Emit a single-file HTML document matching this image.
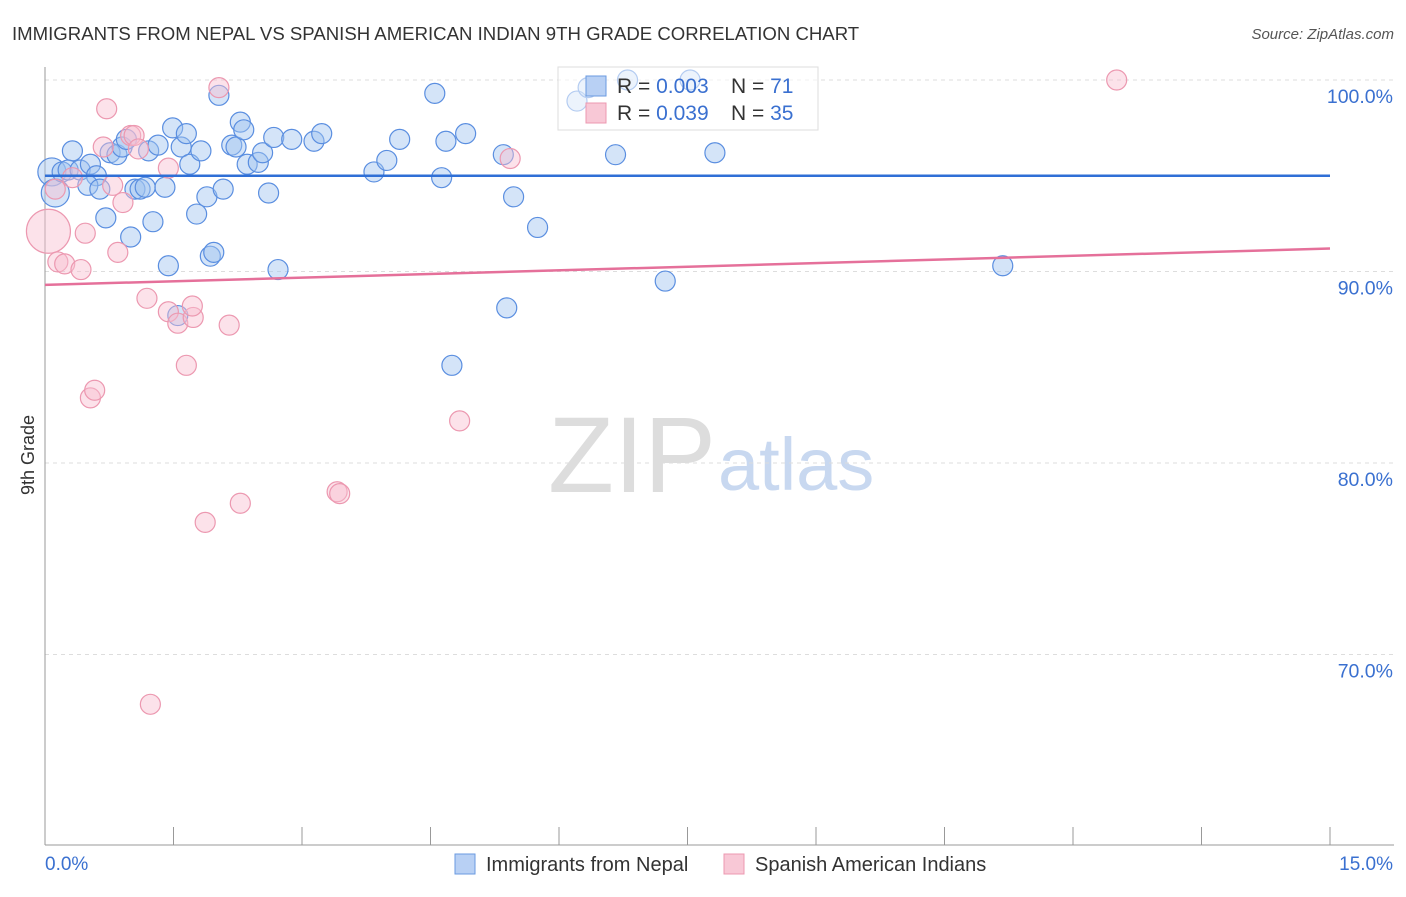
<!DOCTYPE html>
<html><head><meta charset="utf-8"><style>
body{margin:0;background:#fff;font-family:"Liberation Sans",sans-serif}
svg text{font-family:"Liberation Sans",sans-serif}
</style></head><body>
<svg id="c" width="1406" height="892">
<text x="12" y="40" font-size="18.6" fill="#333">IMMIGRANTS FROM NEPAL VS SPANISH AMERICAN INDIAN 9TH GRADE CORRELATION CHART</text>
<text x="1394" y="39" font-size="15" fill="#555" font-style="italic" text-anchor="end">Source: ZipAtlas.com</text>
<text x="716" y="492" font-size="108" fill="#ddd" text-anchor="end" font-family="Liberation Serif">ZIP</text>
<text x="718" y="490" font-size="74" fill="#c8d8f0">atlas</text>
<text x="34" y="455" font-size="18" fill="#333" transform="rotate(-90 34 455)" text-anchor="middle">9th Grade</text>
<g id="grid"></g><g id="pts"></g><g id="trend"></g>
<g>
<rect x="558" y="67" width="260" height="63" fill="rgba(255,255,255,0.55)" stroke="#ddd"/>
<rect x="586" y="76" width="20" height="20" fill="#b8d0f4" stroke="#6a9ae0"/>
<rect x="586" y="103" width="20" height="20" fill="#f8c8d6" stroke="#ec98b0"/>
<text x="617" y="93" font-size="21" fill="#333">R = <tspan fill="#3a70d0">0.003</tspan></text>
<text x="731" y="93" font-size="21" fill="#333">N = <tspan fill="#3a70d0">71</tspan></text>
<text x="617" y="120" font-size="21" fill="#333">R = <tspan fill="#3a70d0">0.039</tspan></text>
<text x="731" y="120" font-size="21" fill="#333">N = <tspan fill="#3a70d0">35</tspan></text>
</g>
<g>
<rect x="455" y="854" width="20" height="20" fill="#b8d0f4" stroke="#6a9ae0"/>
<text x="486" y="871" font-size="20" fill="#333">Immigrants from Nepal</text>
<rect x="724" y="854" width="20" height="20" fill="#f8c8d6" stroke="#ec98b0"/>
<text x="755" y="871" font-size="20" fill="#333">Spanish American Indians</text>
</g>
<text x="45" y="870" font-size="19" fill="#3a70d0">0.0%</text>
<text x="1393" y="870" font-size="19" fill="#3a70d0" text-anchor="end">15.0%</text>
</svg>
<script>
const yTicks=[100,90,80,70];
const yTickLabels=["100.0%","90.0%","80.0%","70.0%"];
const xTicks=[0,1.5,3,4.5,6,7.5,9,10.5,12,13.5,15];
const nepalX=[0.08,0.12,0.32,0.2,0.27,0.41,0.53,0.6,0.5,0.64,0.71,0.76,0.84,0.9,0.95,1.0,1.05,1.11,1.17,1.21,1.26,1.32,1.4,1.44,1.49,1.55,1.59,1.65,1.69,1.77,1.82,1.89,1.93,1.97,2.03,2.08,2.18,2.23,2.28,2.32,2.36,2.49,2.54,2.61,2.67,2.72,2.88,3.14,3.23,3.84,3.99,4.14,4.55,4.63,4.68,4.91,5.35,5.39,5.47,5.75,4.75,6.21,6.34,6.66,6.8,7.24,7.53,7.82,11.18];
const nepalY=[95.2,94.1,96.3,95.2,95.3,95.3,95.6,95.0,94.5,94.3,92.8,96.2,96.1,96.5,96.9,91.8,94.3,94.3,94.4,96.3,92.6,96.6,94.4,90.3,97.5,87.7,96.5,97.2,95.6,93.0,96.3,93.9,90.8,91.0,99.2,94.3,96.6,96.5,97.8,97.4,95.6,95.7,96.2,94.1,97.0,90.1,96.9,96.8,97.2,95.2,95.8,96.9,99.3,94.9,96.8,97.2,96.1,88.1,93.9,92.3,85.1,98.9,99.6,96.1,100.0,89.5,100.0,96.2,90.3];
const nepalR=[14,14,10,10,10,10,10,10,10,10,10,10,10,10,10,10,10,10,10,10,10,10,10,10,10,10,10,10,10,10,10,10,10,10,10,10,10,10,10,10,10,10,10,10,10,10,10,10,10,10,10,10,10,10,10,10,10,10,10,10,10,10,10,10,10,10,10,10,10];
const spX=[0.04,0.12,0.15,0.23,0.32,0.42,0.47,0.53,0.58,0.68,0.72,0.79,0.85,0.91,1.0,1.04,1.09,1.19,1.23,1.44,1.44,1.55,1.65,1.73,1.72,1.87,2.03,2.15,2.28,3.41,3.44,4.84,5.43,12.51];
const spY=[92.1,94.3,90.5,90.4,94.9,90.1,92.0,83.4,83.8,96.5,98.5,94.5,91.0,93.6,97.1,97.1,96.4,88.6,67.4,95.4,87.9,87.3,85.1,87.6,88.2,76.9,99.6,87.2,77.9,78.5,78.4,82.2,95.9,100.0];
const spR=[22,10,10,10,10,10,10,10,10,10,10,10,10,10,10,10,10,10,10,10,10,10,10,10,10,10,10,10,10,10,10,10,10,10];
const trendNepal=[95.0,95.0];
const trendSpanish=[89.3,91.2];
const X=v=>45+v*(1285/15), Y=v=>80+(100-v)*19.15;
const NS="http://www.w3.org/2000/svg";
function mk(p,t,a){const e=document.createElementNS(NS,t);for(const k in a)e.setAttribute(k,a[k]);document.getElementById(p).appendChild(e);return e;}
yTicks.forEach((t,i)=>{
 const l=mk('grid','line',{x1:45,x2:1394,y1:Y(t),y2:Y(t),stroke:'#ddd','stroke-dasharray':'4 4'});
 
 
 const tx=mk('grid','text',{x:1393,y:Y(t)+23,'font-size':19.5,fill:'#3a70d0','text-anchor':'end'});
 tx.textContent=yTickLabels[i];
 
 
});
const ax=mk('grid','line',{x1:45,x2:45,y1:67,y2:845,stroke:'#999'});


const bx=mk('grid','line',{x1:45,x2:1394,y1:845,y2:845,stroke:'#999'});


xTicks.forEach(t=>{
 const l=mk('grid','line',{x1:X(t),x2:X(t),y1:827,y2:845,stroke:'#999'});
 
 
});
nepalX.forEach((x,i)=>{
 const c=mk('pts','circle',{cx:X(x),cy:Y(nepalY[i]),r:nepalR[i],fill:'rgba(160,195,240,0.45)',stroke:'#5a8ee0','stroke-width':1.2});
 
 
});
spX.forEach((x,i)=>{
 const c=mk('pts','circle',{cx:X(x),cy:Y(spY[i]),r:spR[i],fill:'rgba(248,190,208,0.45)',stroke:'#ec98b0','stroke-width':1.2});
 
 
});
const t1=mk('trend','line',{x1:X(0),x2:X(15),y1:Y(trendNepal[0]),y2:Y(trendNepal[1]),stroke:'#2f6fd6','stroke-width':2.5});


const t2=mk('trend','line',{x1:X(0),x2:X(15),y1:Y(trendSpanish[0]),y2:Y(trendSpanish[1]),stroke:'#e5709a','stroke-width':2.5});


</script>
</body></html>
